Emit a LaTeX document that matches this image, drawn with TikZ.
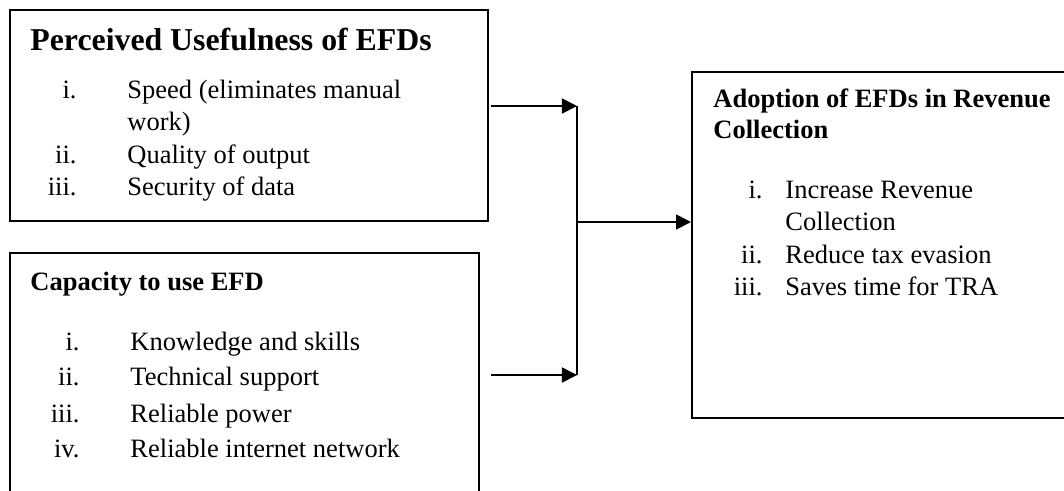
\documentclass[tikz,border=0pt]{standalone}
\usepackage{fontspec}
\setmainfont{Liberation Serif}
\usetikzlibrary{arrows.meta,fit}
\tikzset{
  frame/.style={draw, line width=0.9pt, inner sep=0pt},
  link/.style={line width=0.7pt},
  arr/.style={link, -{Triangle[length=6.8pt,width=6.8pt]}},
  txt/.style={anchor=base west, inner sep=0pt, font=\fontsize{12}{14}\selectfont},
  num/.style={anchor=base east, inner sep=0pt, font=\fontsize{12}{14}\selectfont},
  head/.style={txt, font=\fontsize{12}{14}\selectfont\bfseries},
}
\begin{document}
\begin{tikzpicture}[x=0.4528pt, y=-0.4528pt]
\useasboundingbox (0,0) rectangle (1064,490);
\clip (0,0) rectangle (1064,490);
% boxes
\node[frame, fit={(10,10) (488,221)}] (pu) {};
\node[frame, fit={(10,253) (479,520)}] (cap) {};
\node[frame, fit={(692,72) (1090,418)}] (adopt) {};
% perceived usefulness
\node[head, font=\fontsize{14.4}{17}\selectfont\bfseries] (pu-t) at (30,50) {Perceived Usefulness of EFDs};
\node[num] (pu-n1) at (77,98) {i.};
\node[txt] (pu-i1) at (127,98) {Speed (eliminates manual};
\node[txt] (pu-i1b) at (127,130) {work)};
\node[num] (pu-n2) at (77,163) {ii.};
\node[txt] (pu-i2) at (127,163) {Quality of output};
\node[num] (pu-n3) at (77,195) {iii.};
\node[txt] (pu-i3) at (127,195) {Security of data};
% capacity
\node[head] (cap-t) at (30,290) {Capacity to use EFD};
\node[num] (cap-n1) at (80,350) {i.};
\node[txt] (cap-i1) at (130,350) {Knowledge and skills};
\node[num] (cap-n2) at (80,385) {ii.};
\node[txt] (cap-i2) at (130,385) {Technical support};
\node[num] (cap-n3) at (80,422) {iii.};
\node[txt] (cap-i3) at (130,422) {Reliable power};
\node[num] (cap-n4) at (80,457) {iv.};
\node[txt] (cap-i4) at (130,457) {Reliable internet network};
% adoption
\node[head] (adopt-t) at (713,107) {Adoption of EFDs in Revenue};
\node[head] (adopt-t2) at (713,138) {Collection};
\node[num] (adopt-n1) at (763,198) {i.};
\node[txt] (adopt-i1) at (785,198) {Increase Revenue};
\node[txt] (adopt-i1b) at (785,230) {Collection};
\node[num] (adopt-n2) at (763,263) {ii.};
\node[txt] (adopt-i2) at (785,263) {Reduce tax evasion};
\node[num] (adopt-n3) at (763,295) {iii.};
\node[txt] (adopt-i3) at (785,295) {Saves time for TRA};
% connectors
\coordinate (s1) at (491,106);
\coordinate (s2) at (491,375);
\coordinate (j1) at (577,106);
\coordinate (j2) at (577,375);
\coordinate (jm) at (577,222);
\draw[arr] (s1) -- (j1);
\draw[arr] (s2) -- (j2);
\draw[link] (j1) -- (j2);
\draw[arr] (jm) -- (jm -| adopt.west);
\end{tikzpicture}
\end{document}
